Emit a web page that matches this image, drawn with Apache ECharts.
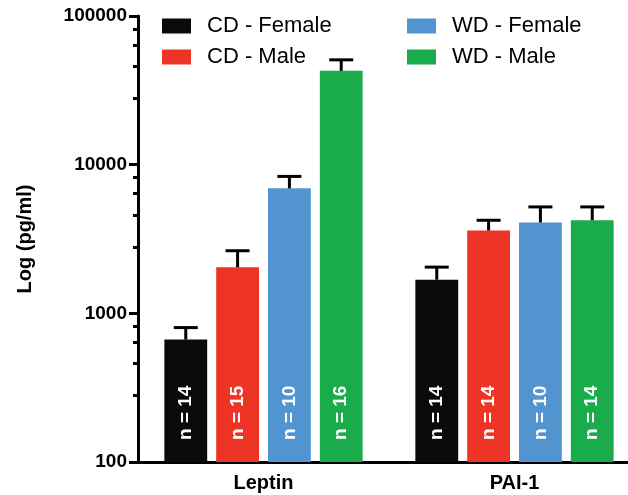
<!DOCTYPE html>
<html>
    <head>
        <meta charset="utf-8">
        <script src="https://cdn.jsdelivr.net/npm/echarts@6/dist/echarts.min.js"></script>
    </head>
    <body>
        <style>
            html, body, #main {
                width: 628px;
                height: 495px;
                margin: 0;
                background: #fff;
            }
        </style>
        <div id="main"></div>
        <script>
            var categories = ['Leptin', 'PAI-1'];
            var groups = ['CD - Female', 'CD - Male', 'WD - Female', 'WD - Male'];

            // mean values (pg/ml)
            var cdFemale = [666, 1683];
            var cdMale = [2040, 3606];
            var wdFemale = [6930, 4084];
            var wdMale = [42760, 4227];

            // top of the error bars (mean + SEM)
            var cdFemaleTop = [802, 2046];
            var cdMaleTop = [2637, 4227];
            var wdFemaleTop = [8337, 5198];
            var wdMaleTop = [50700, 5198];

            // sample sizes
            var cdFemaleN = [14, 14];
            var cdMaleN = [15, 14];
            var wdFemaleN = [10, 10];
            var wdMaleN = [16, 14];

            var colors = ['#0a0a0a', '#ee3424', '#5294cf', '#1aab4b'];
            var means = [cdFemale, cdMale, wdFemale, wdMale];
            var tops = [cdFemaleTop, cdMaleTop, wdFemaleTop, wdMaleTop];
            var counts = [cdFemaleN, cdMaleN, wdFemaleN, wdMaleN];

            var font = 'Liberation Sans, Arial, sans-serif';
            var GAP = 0.21, CAT_GAP = 0.21;

            var chart = echarts.init(document.getElementById('main'));

            function barSeries(k) {
                return {
                    name: groups[k],
                    type: 'bar',
                    data: means[k],
                    barGap: (GAP * 100) + '%',
                    barCategoryGap: (CAT_GAP * 100) + '%',
                    itemStyle: { color: colors[k] },
                    z: 2,
                    label: {
                        show: true,
                        position: 'insideBottom',
                        rotate: 90,
                        align: 'left',
                        verticalAlign: 'middle',
                        distance: 22,
                        color: '#fff',
                        fontWeight: 'bold',
                        fontSize: 19,
                        fontFamily: font,
                        formatter: function (p) {
                            return 'n = ' + counts[k][p.dataIndex];
                        }
                    }
                };
            }

            function errorSeries(k) {
                return {
                    type: 'custom',
                    z: 3,
                    silent: true,
                    encode: { x: 0, y: [1, 2] },
                    data: categories.map(function (c, i) {
                        return [i, means[k][i], tops[k][i]];
                    }),
                    renderItem: function (params, api) {
                        var cat = api.value(0);
                        var base = api.coord([cat, api.value(1)]);
                        var top = api.coord([cat, api.value(2)]);
                        var band = api.coord([1, api.value(1)])[0] - api.coord([0, api.value(1)])[0];
                        var bw = band * (1 - CAT_GAP) / (4 + 3 * GAP);
                        var x = base[0] + (k - 1.5) * bw * (1 + GAP);
                        var style = { stroke: '#000', lineWidth: 3 };
                        return {
                            type: 'group',
                            children: [
                                { type: 'line', shape: { x1: x, y1: base[1], x2: x, y2: top[1] }, style: style },
                                { type: 'line', shape: { x1: x - 12, y1: top[1], x2: x + 12, y2: top[1] }, style: style }
                            ]
                        };
                    }
                };
            }

            var legendBase = {
                orient: 'vertical',
                top: 10,
                icon: 'rect',
                itemWidth: 29,
                itemHeight: 15,
                itemGap: 9,
                textStyle: { fontSize: 22, color: '#000', fontFamily: font, padding: [0, 0, 0, 11] }
            };

            var series = [];
            for (var k = 0; k < 4; k++) series.push(barSeries(k));
            for (var k2 = 0; k2 < 4; k2++) series.push(errorSeries(k2));

            chart.setOption({
                animation: false,
                legend: [
                    Object.assign({ left: 157, data: ['CD - Female', 'CD - Male'] }, legendBase),
                    Object.assign({ left: 402, data: ['WD - Female', 'WD - Male'] }, legendBase)
                ],
                // the x axis runs off the right edge, as in the original figure
                grid: { left: 138, top: 16, bottom: 33, width: 502, outerBoundsMode: 'none' },
                xAxis: {
                    type: 'category',
                    data: categories,
                    axisLine: { lineStyle: { color: '#000', width: 3 } },
                    axisTick: { alignWithLabel: true, length: 7, lineStyle: { color: '#000', width: 3 } },
                    axisLabel: { color: '#000', fontSize: 20, fontWeight: 'bold', fontFamily: font, margin: 11 }
                },
                yAxis: {
                    type: 'log',
                    min: 100,
                    max: 100000,
                    name: 'Log (pg/ml)',
                    nameLocation: 'middle',
                    nameGap: 103,
                    nameTextStyle: { color: '#000', fontSize: 20, fontWeight: 'bold', fontFamily: font },
                    axisLine: { show: true, lineStyle: { color: '#000', width: 3 } },
                    axisTick: { show: true, length: 9, lineStyle: { color: '#000', width: 3 } },
                    minorTick: { show: true, splitNumber: 5, length: 5, lineStyle: { color: '#000', width: 3 } },
                    splitLine: { show: false },
                    axisLabel: {
                        color: '#000', fontSize: 19, fontWeight: 'bold', fontFamily: font, margin: 11,
                        formatter: function (v) { return String(Math.round(v)); }
                    }
                },
                series: series
            });
        </script>
    </body>
</html>
